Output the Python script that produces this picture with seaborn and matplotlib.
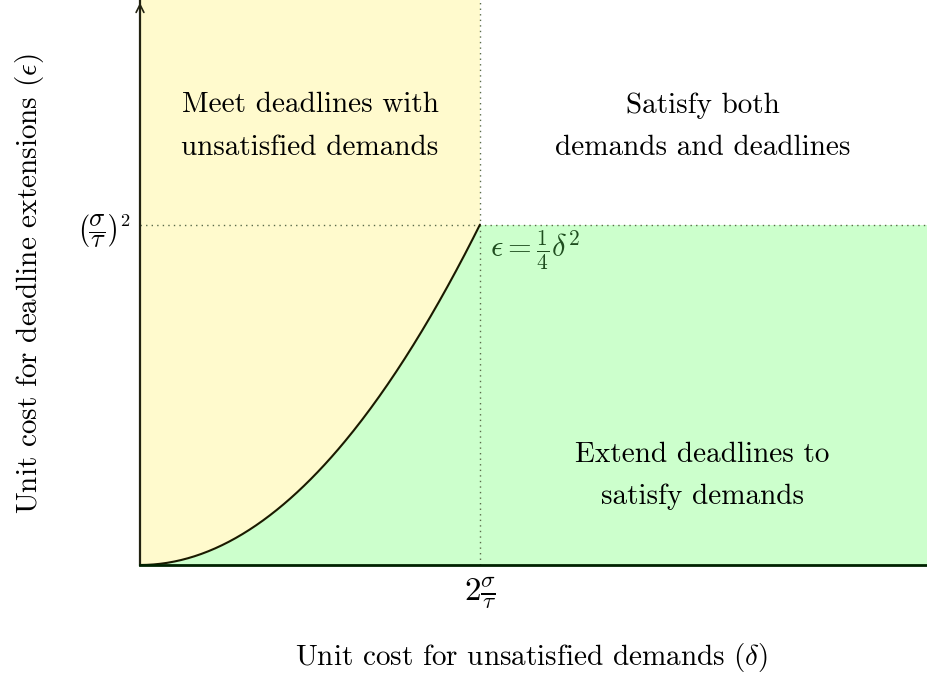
import numpy as np
import pandas as pd
import seaborn as sns
import matplotlib
matplotlib.use("Agg")
import matplotlib.pyplot as plt

# Data (sigma/tau = 1)
x_threshold = 2.0          # delta = 2 sigma/tau
y_threshold = 1.0          # epsilon = (sigma/tau)^2
x_max = 4.63
y_max = 1.66
delta = np.linspace(0, x_threshold, 200)
epsilon = delta ** 2 / 4   # epsilon = 1/4 delta^2 (as labelled on chart)

region_labels = ["Meet deadlines with\nunsatisfied demands",
                 "Satisfy both\ndemands and deadlines",
                 "Extend deadlines to\nsatisfy demands"]
region_pos = [(1.0, 1.288), (3.31, 1.288), (3.31, 0.262)]
xtick_label = r"$2\frac{\sigma}{\tau}$"
ytick_label = r"$\left(\dfrac{\sigma}{\tau}\right)^2$"
curve_label = r"$\epsilon = \frac{1}{4}\delta^2$"

sns.set_theme(style="white")
plt.rcParams["font.family"] = "serif"
plt.rcParams["font.serif"] = ["cmr10"]
plt.rcParams["mathtext.fontset"] = "cm"
plt.rcParams["axes.unicode_minus"] = False
plt.rcParams["axes.formatter.use_mathtext"] = True
plt.rcParams["text.color"] = "black"
plt.rcParams["axes.labelcolor"] = "black"

fig = plt.figure(figsize=(9.27, 6.77), dpi=100)
ax = fig.add_axes([140/927, 112/677, 787/927, 565/677])

yellow = "#FFFACD"
green = "#CCFFCC"

# Regions
ax.fill_between([0, x_threshold], [y_max, y_max], [0, 0], color=yellow, lw=0, zorder=0)
ax.fill_between(delta, epsilon, 0, color=green, lw=0, zorder=1)
ax.fill_between([x_threshold, x_max], [y_threshold, y_threshold], [0, 0], color=green, lw=0, zorder=1)

# Dotted guides
ax.plot([x_threshold, x_threshold], [0, y_max], ls=(0, (1, 3)), color="#5a6b4a", lw=1.0, zorder=2)
ax.plot([0, x_max], [y_threshold, y_threshold], ls=(0, (1, 3)), color="#5a6b4a", lw=1.0, zorder=2)

# Curve
df = pd.DataFrame({"delta": delta, "epsilon": epsilon})
sns.lineplot(data=df, x="delta", y="epsilon", ax=ax, color="#1a1a00", lw=1.5, zorder=3)

ax.set_xlim(0, x_max)
ax.set_ylim(0, y_max)
for s in ["top", "right"]:
    ax.spines[s].set_visible(False)
ax.spines["left"].set_color("#222211")
ax.spines["left"].set_linewidth(1.6)
ax.spines["bottom"].set_color("#002200")
ax.spines["bottom"].set_linewidth(2.0)
ax.spines["left"].set_zorder(5)
ax.spines["bottom"].set_zorder(5)

# arrow at top of y axis
ax.annotate("", xy=(0, 1.0), xytext=(0, 0.97), xycoords="axes fraction",
            arrowprops=dict(arrowstyle="->", color="#222211", lw=1.2, mutation_scale=14),
            annotation_clip=False)

ax.set_xticks([x_threshold])
ax.set_xticklabels([xtick_label], fontsize=24)
ax.set_yticks([y_threshold])
ax.set_yticklabels([ytick_label], fontsize=19)
ax.tick_params(axis="both", length=0, pad=7, colors="black")

ax.set_xlabel(r"Unit cost for unsatisfied demands ($\delta$)", fontsize=21)
ax.set_ylabel(r"Unit cost for deadline extensions ($\epsilon$)", fontsize=21)
ax.xaxis.set_label_coords(0.497, -0.135)
ax.yaxis.set_label_coords(-0.14, 0.497)
ax.xaxis.label.set_va("top")
ax.yaxis.label.set_va("center")

for lab, (px, py) in zip(region_labels, region_pos):
    ax.text(px, py, lab, ha="center", va="center", fontsize=21, linespacing=1.8, zorder=4)

ax.text(2.06, 0.925, curve_label, ha="left", va="center", fontsize=22, color="#1f4d1f", zorder=4)

fig.savefig("out.png", dpi=100)
